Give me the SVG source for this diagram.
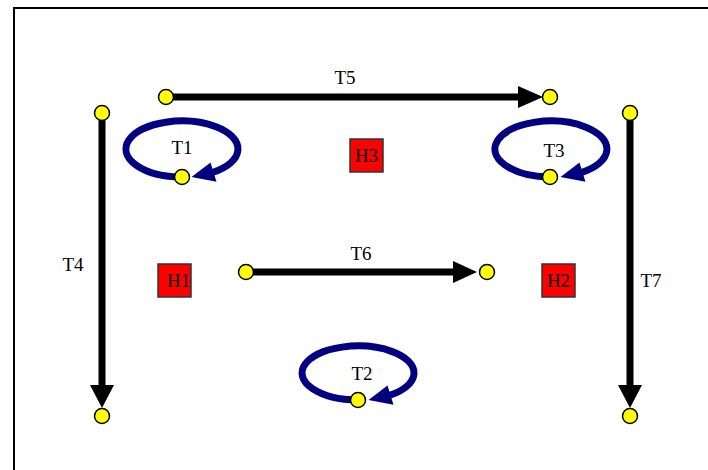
<svg xmlns="http://www.w3.org/2000/svg" width="708" height="470" viewBox="0 0 708 470">
<style>
  .lbl { font-family: "Liberation Serif", "Times New Roman", serif; font-size: 19px; fill: #000; }
  .edge { stroke: #000; stroke-width: 7; fill: none; }
  .loop { stroke: #000080; stroke-width: 7; fill: none; }
  .head { fill: #000; }
  .loophead { fill: #000080; }
  .dot { fill: #ffff00; stroke: #000; stroke-width: 1.5; }
  .box { fill: #ff0000; stroke: #333; stroke-width: 1.5; }
</style>
<rect x="0" y="0" width="708" height="470" fill="#ffffff"/>
<rect x="14" y="8" width="720" height="500" fill="none" stroke="#000" stroke-width="2"/>

<g id="connectors">
  <g id="T5">
    <line class="edge" x1="166" y1="97" x2="520" y2="97"/>
    <polygon class="head" points="543,97 518,86 518,108"/>
    <text class="lbl" x="345" y="84" text-anchor="middle">T5</text>
  </g>
  <g id="T6">
    <line class="edge" x1="246" y1="272" x2="455" y2="272"/>
    <polygon class="head" points="477,272 453,261 453,283"/>
    <text class="lbl" x="361" y="260" text-anchor="middle">T6</text>
  </g>
  <g id="T4">
    <line class="edge" x1="102" y1="113" x2="102" y2="387"/>
    <polygon class="head" points="102,408 90,385 114,385"/>
    <text class="lbl" x="73" y="271" text-anchor="middle">T4</text>
  </g>
  <g id="T7">
    <line class="edge" x1="630" y1="113" x2="630" y2="387"/>
    <polygon class="head" points="630,408 618,385 642,385"/>
    <text class="lbl" x="651" y="287" text-anchor="middle">T7</text>
  </g>
  <g id="T1">
    <path class="loop" d="M182,177 A56,28 0 1 1 213,172.3"/>
    <polygon class="loophead" points="191.5,177 210.5,162.5 216.5,181.7"/>
    <text class="lbl" x="182" y="154" text-anchor="middle">T1</text>
  </g>
  <g id="T3">
    <path class="loop" d="M550,177 A56,28 0 1 1 582,172.3"/>
    <polygon class="loophead" points="560.5,177 579.5,162.5 585.5,181.7"/>
    <text class="lbl" x="554" y="157" text-anchor="middle">T3</text>
  </g>
  <g id="T2">
    <path class="loop" d="M358,400 A56,27 0 1 1 389,395.5"/>
    <polygon class="loophead" points="368.5,400 387.5,385.5 393.5,404.7"/>
    <text class="lbl" x="362" y="380" text-anchor="middle">T2</text>
  </g>
</g>

<g id="places">
  <circle class="dot" cx="166" cy="97" r="7.5"/>
  <circle class="dot" cx="550" cy="97" r="7.5"/>
  <circle class="dot" cx="102" cy="113" r="7.5"/>
  <circle class="dot" cx="102" cy="416" r="7.5"/>
  <circle class="dot" cx="630" cy="113" r="7.5"/>
  <circle class="dot" cx="630" cy="416" r="7.5"/>
  <circle class="dot" cx="246" cy="272" r="7.5"/>
  <circle class="dot" cx="487" cy="272" r="7.5"/>
  <circle class="dot" cx="182" cy="177" r="7.5"/>
  <circle class="dot" cx="550" cy="177" r="7.5"/>
  <circle class="dot" cx="358" cy="400" r="7.5"/>
</g>

<g id="H1">
  <rect class="box" x="158" y="264" width="33" height="33"/>
  <text class="lbl" x="167" y="287">H1</text>
</g>
<g id="H2">
  <rect class="box" x="542" y="264" width="33" height="33"/>
  <text class="lbl" x="558.5" y="287" text-anchor="middle">H2</text>
</g>
<g id="H3">
  <rect class="box" x="350" y="139" width="33" height="33"/>
  <text class="lbl" x="366.5" y="162" text-anchor="middle">H3</text>
</g>
</svg>
